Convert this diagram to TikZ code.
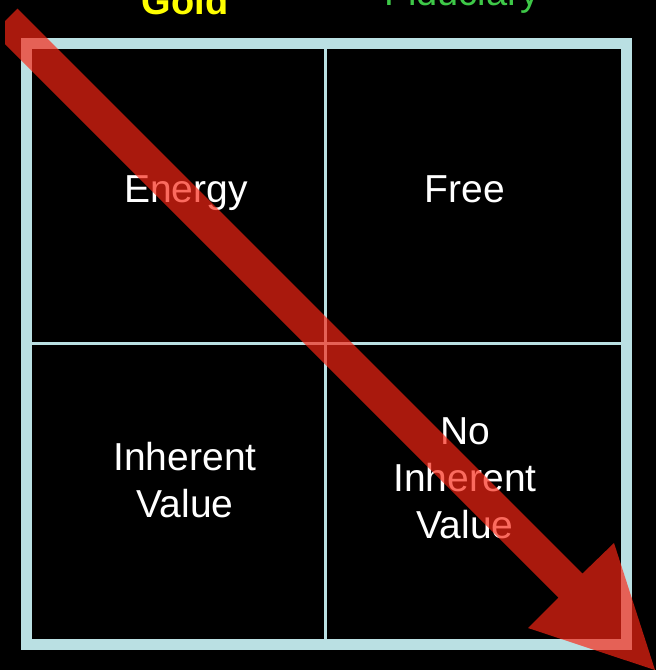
\documentclass[tikz,border=0pt]{standalone}
\usepackage{fontspec}
\setmainfont{Liberation Sans}
\definecolor{gridc}{RGB}{186,224,227}
\definecolor{goldc}{RGB}{255,255,0}
\definecolor{fidc}{RGB}{62,200,72}
\definecolor{arrowc}{RGB}{250,38,20}
\begin{document}
\begin{tikzpicture}[x=1pt,y=-1pt,
  cell/.style={text=white,font=\fontsize{39}{47}\selectfont,align=center,inner sep=0pt,anchor=base},
  toplabel/.style={font=\fontsize{38}{47}\selectfont,inner sep=0pt,anchor=base}]
\useasboundingbox (0,0) rectangle (656,670);
\fill[black] (0,0) rectangle (656,670);
\clip (0,0) rectangle (656,670);
% grid
\draw[gridc,line width=3pt] (325,43.5) -- (325,644);
\draw[gridc,line width=3pt] (26,343) -- (626,343);
\draw[gridc,line width=11pt,line join=miter] (26,43.5) rectangle (626,644);
% labels
\node[toplabel,text=goldc] (gold) at (185,14) {\bfseries Gold};
\node[toplabel,text=fidc] (fid) at (462,5) {Fiduciary};
\node[cell] (energy) at (186,202) {Energy};
\node[cell] (free) at (465,202) {Free};
\node[cell] (inh) at (185,517) {Inherent\\Value};
\node[cell] (noinh) at (465,538) {No\\Inherent\\Value};
% arrow
\fill[arrowc,fill opacity=0.68] (17.5,8.5) -- (582.5,573.5) -- (614,543) -- (655,670)
  -- (528,628) -- (558.5,597.5) -- (5,44) -- (5,21) -- cycle;
\end{tikzpicture}
\end{document}
